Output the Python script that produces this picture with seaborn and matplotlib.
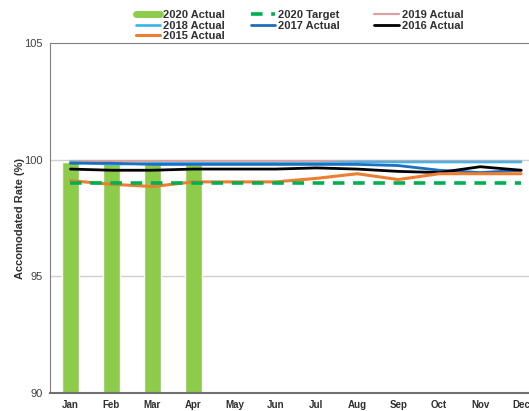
import numpy as np
import pandas as pd
import matplotlib
matplotlib.use("Agg")
import matplotlib.pyplot as plt
import seaborn as sns
from matplotlib.lines import Line2D

months = ["Jan", "Feb", "Mar", "Apr", "May", "Jun", "Jul", "Aug", "Sep", "Oct", "Nov", "Dec"]
actual_2020 = [99.9, 99.85, 99.8, 99.8, np.nan, np.nan, np.nan, np.nan, np.nan, np.nan, np.nan, np.nan]
target_2020 = [99.0] * 12
actual_2019 = [99.95, 99.95, 99.95, 99.95, 99.95, 99.95, 99.95, 99.95, 99.95, 99.95, 99.95, 99.95]
actual_2018 = [99.9, 99.8, 99.85, 99.85, 99.85, 99.85, 99.85, 99.9, 99.9, 99.9, 99.9, 99.9]
actual_2017 = [99.85, 99.85, 99.8, 99.8, 99.8, 99.8, 99.8, 99.8, 99.75, 99.55, 99.45, 99.55]
actual_2016 = [99.6, 99.55, 99.55, 99.6, 99.6, 99.6, 99.65, 99.6, 99.5, 99.45, 99.7, 99.55]
actual_2015 = [99.1, 98.95, 98.85, 99.05, 99.05, 99.05, 99.2, 99.4, 99.15, 99.4, 99.4, 99.4]
yticks = [90, 95, 100, 105]

fig = plt.figure(figsize=(5.29, 4.11), dpi=100)
ax = fig.add_axes([0.0945, 0.044, 0.92, 0.851])
sns.set_style("white")

bar_df = pd.DataFrame({"month": months, "value": actual_2020})
sns.barplot(data=bar_df, x="month", y="value", order=months, color="#8DCB4B",
            saturation=1, width=0.42, ax=ax, zorder=2)

x = np.arange(len(months))
series = [
    (actual_2019, "#D9A3A3", 1.6),
    (actual_2018, "#3FB6EA", 1.8),
    (actual_2017, "#1F6FBF", 2.0),
    (actual_2016, "#000000", 2.0),
    (actual_2015, "#ED7D31", 2.2),
]
for vals, col, lw in series:
    sns.lineplot(x=x, y=vals, color=col, linewidth=lw, ax=ax, zorder=3)
sns.lineplot(x=x, y=target_2020, color="#00B050", linewidth=2.6, ax=ax, zorder=4)
ax.lines[-1].set_dashes((3.2, 2.4))

ax.set_ylim(90, 105)
ax.set_xlim(-0.5, 11.38)
ax.set_yticks(yticks)
ax.set_yticklabels([str(t) for t in yticks], fontsize=8, color="#404040", family="Liberation Sans")
ax.set_xticks(x)
ax.set_xticklabels(months, fontsize=7, fontweight="bold", color="#303030", family="Liberation Sans")
ax.tick_params(axis="both", length=0, pad=5)
ax.set_xlabel("")
ax.set_ylabel("Accomodated Rate (%)", fontsize=8, fontweight="bold", color="#303030",
              family="Liberation Sans", labelpad=0)
for y in [95, 100]:
    ax.axhline(y, color="#D0D0D0", linewidth=1.0, zorder=1)
ax.spines["right"].set_visible(False)
ax.spines["top"].set_color("#808080")
ax.spines["left"].set_color("#808080")
ax.spines["bottom"].set_color("#707070")
ax.spines["bottom"].set_linewidth(1.5)

handles = [
    Line2D([0], [0], color="#8DCB4B", lw=5),
    Line2D([0], [0], color="#3FB6EA", lw=2),
    Line2D([0], [0], color="#ED7D31", lw=2.2),
    Line2D([0], [0], color="#00B050", lw=2.6, dashes=(3.2, 2.4)),
    Line2D([0], [0], color="#1F6FBF", lw=2),
    Line2D([0], [0], color="white", lw=0),
    Line2D([0], [0], color="#D9A3A3", lw=1.6),
    Line2D([0], [0], color="#000000", lw=2),
]
labels = ["2020 Actual", "2018 Actual", "2015 Actual", "2020 Target   ", "2017 Actual   ", "",
          "2019 Actual", "2016 Actual"]
leg = fig.legend(handles, labels, ncol=3, loc="upper left", bbox_to_anchor=(0.238, 1.0),
                 frameon=False, handlelength=2.2, handletextpad=0.25,
                 labelspacing=0.05, columnspacing=2.3,
                 prop={"family": "Liberation Sans", "weight": "bold", "size": 8})
for t in leg.get_texts():
    t.set_color("#303030")

fig.savefig("out.png", dpi=100)
